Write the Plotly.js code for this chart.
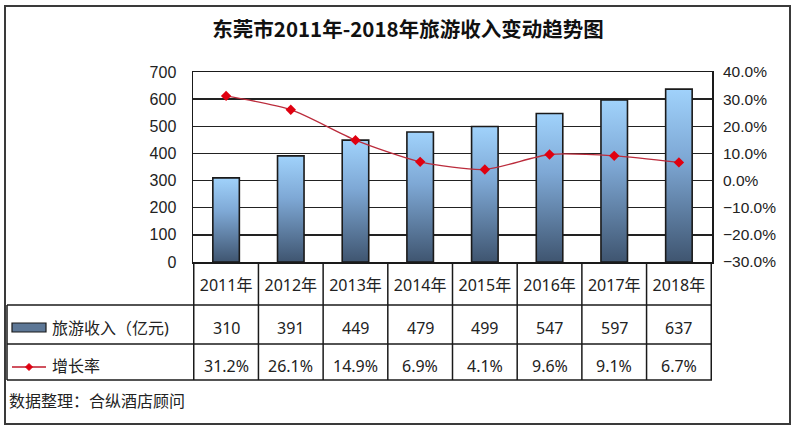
<!DOCTYPE html>
<html>
<head>
<meta charset="utf-8">
<script src="https://cdn.plot.ly/plotly-3.0.1.min.js"></script>
<style>
  html, body { margin: 0; padding: 0; background: #fff; }
  #chart { width: 800px; height: 432px; }
</style>
</head>
<body>
<div id="chart"></div>
<script>
// data
const years = ["2011年", "2012年", "2013年", "2014年", "2015年", "2016年", "2017年", "2018年"];
const revenue = [310, 391, 449, 479, 499, 547, 597, 637];
const growth = [0.312, 0.261, 0.149, 0.069, 0.041, 0.096, 0.091, 0.067];
const revenueName = "旅游收入（亿元)";
const growthName = "增长率";
const source = "数据整理：合纵酒店顾问";

const cjk = 'Noto Sans, Noto Sans CJK SC, sans-serif';
const arial = 'Liberation Sans, Arial, sans-serif';
const ink = "#1a1a1a";
const cellFont = { family: cjk, size: 16, color: "#222" };

// plot area is 193..712 x 72..262 px; helpers turn page pixels into paper units
const px = p => (p - 193) / 519;
const py = p => (262 - p) / 190;

const tableLeft = px(7);
const rowLines = [py(305), py(344), py(380)];
const rowText = [py(328), py(366)];

const shapes = [];
// outer frame
shapes.push({ type: "rect", xref: "paper", yref: "paper", x0: px(5), x1: px(790), y0: py(424), y1: py(6),
  line: { color: "#3a3a3a", width: 2 } });
// horizontal table lines
rowLines.forEach(y => shapes.push({ type: "line", xref: "paper", yref: "paper", x0: tableLeft, x1: 1, y0: y, y1: y,
  line: { color: ink, width: 1.5 } }));
// left edge of the legend column
shapes.push({ type: "line", xref: "paper", yref: "paper", x0: tableLeft, x1: tableLeft, y0: rowLines[0], y1: rowLines[2],
  line: { color: ink, width: 1.5 } });
// column separators
for (let i = 0; i <= years.length; i++) {
  shapes.push({ type: "line", xref: "x", yref: "paper", x0: i - 0.5, x1: i - 0.5, y0: 0, y1: rowLines[2],
    line: { color: ink, width: 1.5 } });
}
// legend swatches
shapes.push({ type: "rect", xref: "paper", yref: "paper", x0: px(12), x1: px(46), y0: py(332), y1: py(323),
  fillcolor: "#5d7796", line: { color: ink, width: 1.2 } });
shapes.push({ type: "line", xref: "paper", yref: "paper", x0: px(12), x1: px(46), y0: py(367), y1: py(367),
  line: { color: "#c0182a", width: 1.3 } });
shapes.push({ type: "path", xref: "paper", yref: "paper", xsizemode: "pixel", ysizemode: "pixel",
  xanchor: px(29), yanchor: py(367), path: "M0,-3.5 L3.5,0 L0,3.5 L-3.5,0 Z",
  fillcolor: "#e00010", line: { color: "#e00010", width: 1 } });

const annotations = [];
const cell = (xref, x, y, text, xanchor) => ({ xref, yref: "paper", x, y, text, showarrow: false,
  xanchor: xanchor || "center", yanchor: "middle", font: cellFont });
years.forEach((y, i) => {
  annotations.push(cell("x", i, rowText[0], String(revenue[i])));
  annotations.push(cell("x", i, rowText[1], (growth[i] * 100).toFixed(1) + "%"));
});
annotations.push(cell("paper", px(50), rowText[0], revenueName, "left"));
annotations.push(cell("paper", px(50), rowText[1], growthName, "left"));
annotations.push(cell("paper", px(7), py(401), source, "left"));

const traces = [
  {
    name: revenueName,
    type: "bar",
    x: years,
    y: revenue,
    width: 0.41,
    marker: { color: "#6f93bd", line: { color: ink, width: 1.6 } },
  },
  {
    name: growthName,
    type: "scatter",
    mode: "lines+markers",
    x: years,
    y: growth,
    yaxis: "y2",
    line: { color: "#bb2c3c", width: 1.3, shape: "spline", smoothing: 0.7 },
    marker: { symbol: "diamond", size: 8, color: "#e00010" },
  },
];

const layout = {
  width: 800,
  height: 432,
  margin: { l: 193, r: 88, t: 72, b: 170 },
  paper_bgcolor: "#fff",
  plot_bgcolor: "#fff",
  showlegend: false,
  title: {
    text: "东莞市2011年-2018年旅游收入变动趋势图",
    font: { family: "Noto Sans CJK SC, sans-serif", size: 20.5, color: "#111", weight: "bold" },
    x: 0.51,
    xanchor: "center",
    y: 0.93,
    yanchor: "middle",
  },
  xaxis: {
    type: "category",
    showline: true,
    mirror: true,
    linecolor: ink,
    linewidth: 1.5,
    showgrid: false,
    ticks: "",
    ticklabelstandoff: 8,
    tickfont: { family: cjk, size: 16, color: "#222" },
  },
  yaxis: {
    range: [0, 700],
    dtick: 100,
    showline: true,
    mirror: true,
    linecolor: ink,
    linewidth: 1.5,
    gridcolor: "#222",
    gridwidth: 1.5,
    zeroline: false,
    ticks: "",
    ticklabelstandoff: 12,
    tickfont: { family: arial, size: 16, color: "#222" },
  },
  yaxis2: {
    overlaying: "y",
    side: "right",
    range: [-0.3, 0.4],
    dtick: 0.1,
    tickformat: ".1%",
    showgrid: false,
    zeroline: false,
    ticks: "",
    ticklabelstandoff: 10,
    tickfont: { family: arial, size: 15.5, color: "#222" },
  },
  shapes: shapes,
  annotations: annotations,
};

const gd = document.getElementById("chart");
Plotly.newPlot(gd, traces, layout, { displayModeBar: false, staticPlot: true }).then(() => {
  // vertical gradient on the bars, as in the reference
  const svg = gd.querySelector("svg.main-svg");
  const ns = "http://www.w3.org/2000/svg";
  let defs = svg.querySelector("defs");
  if (!defs) { defs = document.createElementNS(ns, "defs"); svg.insertBefore(defs, svg.firstChild); }
  const grad = document.createElementNS(ns, "linearGradient");
  grad.setAttribute("id", "barGrad");
  grad.setAttribute("x1", "0"); grad.setAttribute("y1", "0");
  grad.setAttribute("x2", "0"); grad.setAttribute("y2", "1");
  [["0%", "#a0d2fb"], ["40%", "#7ea8d5"], ["100%", "#3f5570"]].forEach(([o, c]) => {
    const s = document.createElementNS(ns, "stop");
    s.setAttribute("offset", o);
    s.setAttribute("stop-color", c);
    grad.appendChild(s);
  });
  defs.appendChild(grad);
  gd.querySelectorAll(".trace.bars .point path").forEach(p => { p.style.fill = "url(#barGrad)"; });
});
</script>
</body>
</html>
